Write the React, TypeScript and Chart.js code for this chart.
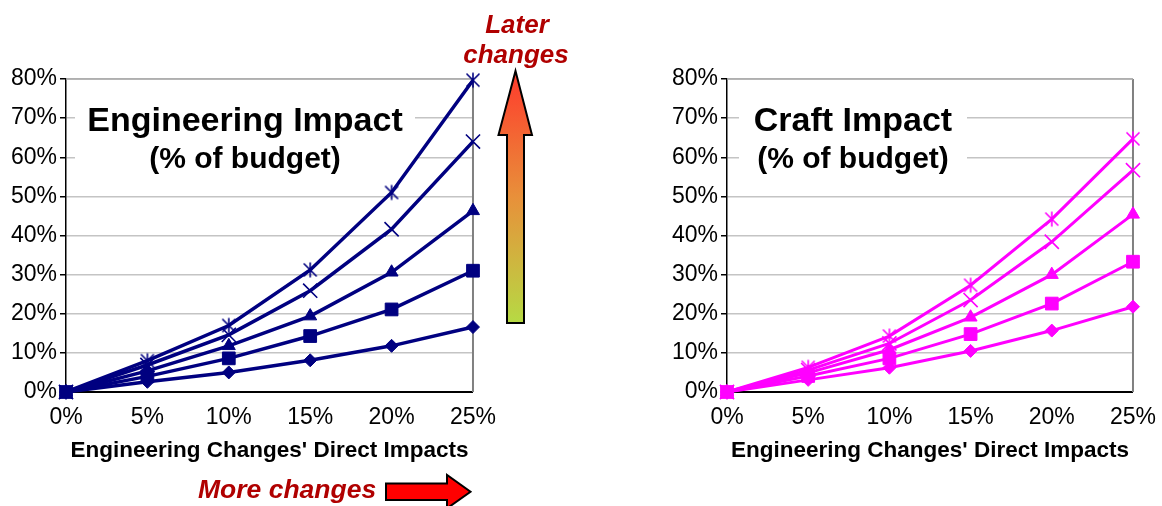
import React, { useEffect, useRef } from 'react';
import { Chart, registerables } from 'chart.js';

Chart.register(...registerables);

// ---------- data ----------
const categories = ['0%', '5%', '10%', '15%', '20%', '25%'];
const seriesNames = ['Series 1', 'Series 2', 'Series 3', 'Series 4', 'Series 5'];

const engDiamond = [0, 2.6, 5.0, 8.1, 11.8, 16.6];
const engSquare = [0, 4.0, 8.6, 14.3, 21.1, 31.0];
const engTriangle = [0, 5.4, 11.8, 19.4, 30.6, 46.3];
const engCross = [0, 6.9, 14.6, 25.9, 41.6, 64.0];
const engStar = [0, 8.0, 17.0, 31.2, 51.0, 79.7];

const craftDiamond = [0, 3.1, 6.2, 10.5, 15.7, 21.8];
const craftSquare = [0, 4.1, 8.6, 14.8, 22.6, 33.3];
const craftTriangle = [0, 4.9, 10.8, 19.1, 30.0, 45.4];
const craftCross = [0, 5.6, 12.4, 23.5, 38.4, 56.7];
const craftStar = [0, 6.3, 14.3, 27.3, 44.2, 64.7];

const yMin = 0;
const yMax = 80;
const yStep = 10;

const xAxisTitle = "Engineering Changes' Direct Impacts";
const engTitle = ['Engineering Impact', '(% of budget)'];
const craftTitle = ['Craft Impact', '(% of budget)'];

// ---------- styles ----------
const FONT = "'Liberation Sans', Arial, sans-serif";
const markerRadii = [6.5, 9, 7.5, 10, 9];

function asteriskMarker(color: string) {
  const size = 18;
  const c = document.createElement('canvas');
  c.width = size;
  c.height = size;
  const g = c.getContext('2d')!;
  const m = size / 2;
  g.strokeStyle = color;
  g.lineWidth = 1.6;
  g.lineCap = 'butt';
  g.beginPath();
  g.moveTo(m - 6.5, m - 6.5);
  g.lineTo(m + 6.5, m + 6.5);
  g.moveTo(m - 6.5, m + 6.5);
  g.lineTo(m + 6.5, m - 6.5);
  g.moveTo(m, m - 7.5);
  g.lineTo(m, m + 7.5);
  g.stroke();
  return c;
}

function makeDatasets(series: number[][], color: string, lineWidth: number) {
  const styles: any[] = ['rectRot', 'rect', 'triangle', 'crossRot', asteriskMarker(color)];
  return series.map((data, i) => ({
    label: seriesNames[i],
    data,
    borderColor: color,
    backgroundColor: color,
    pointBackgroundColor: color,
    pointBorderColor: color,
    pointStyle: styles[i],
    pointRadius: markerRadii[i],
    pointBorderWidth: i >= 3 ? 1.6 : 1,
    borderWidth: lineWidth,
    tension: 0,
    clip: false as any,
  }));
}

type TitleCfg = { lines: string[]; centerX: number; boxL: number; boxR: number };

function makeTitlePlugin(cfg: TitleCfg) {
  return {
    id: 'titleBox',
    beforeDatasetsDraw(chart: any) {
      const { ctx, chartArea } = chart;
      ctx.save();
      ctx.strokeStyle = '#808080';
      ctx.lineWidth = 2;
      ctx.beginPath();
      ctx.moveTo(chartArea.right, chartArea.bottom);
      ctx.lineTo(chartArea.right, chartArea.top);
      ctx.stroke();
      ctx.strokeStyle = '#a8a8a8';
      ctx.lineWidth = 1.5;
      ctx.beginPath();
      ctx.moveTo(chartArea.left, chartArea.top);
      ctx.lineTo(chartArea.right, chartArea.top);
      ctx.stroke();
      ctx.fillStyle = '#ffffff';
      ctx.fillRect(chartArea.left + cfg.boxL, 97, cfg.boxR - cfg.boxL, 82);
      ctx.fillStyle = '#000000';
      ctx.textAlign = 'center';
      ctx.textBaseline = 'alphabetic';
      ctx.font = `bold 34px ${FONT}`;
      ctx.fillText(cfg.lines[0], chartArea.left + cfg.centerX, 131);
      ctx.font = `bold 30px ${FONT}`;
      ctx.fillText(cfg.lines[1], chartArea.left + cfg.centerX, 168);
      ctx.restore();
    },
  };
}

function makeConfig(series: number[][], color: string, lineWidth: number, yWidth: number, padRight: number, title: TitleCfg): any {
  return {
    type: 'line',
    data: { labels: categories, datasets: makeDatasets(series, color, lineWidth) },
    options: {
      animation: false,
      responsive: false,
      events: [],
      layout: { padding: { left: 0, right: padRight, top: 79, bottom: 0 } },
      plugins: { legend: { display: false }, tooltip: { enabled: false } },
      scales: {
        x: {
          type: 'category',
          offset: false,
          grid: { display: false },
          border: { display: true, color: '#000000', width: 2 },
          ticks: { color: '#000000', font: { family: FONT, size: 23 }, padding: 4, maxRotation: 0, autoSkip: false },
          title: {
            display: true,
            text: xAxisTitle,
            color: '#000000',
            font: { family: FONT, size: 22.5, weight: 'bold' },
            padding: { top: 0, bottom: 0 },
          },
          afterFit: (s: any) => {
            s.height = 72;
          },
        },
        y: {
          min: yMin,
          max: yMax,
          ticks: {
            stepSize: yStep,
            color: '#000000',
            font: { family: FONT, size: 23 },
            padding: 3,
            callback: (v: any) => `${v}%`,
          },
          grid: { color: '#c4c4c4', tickColor: '#000000', tickLength: 6, lineWidth: 1.5 },
          border: { display: true, color: '#000000', width: 1.5 },
          afterFit: (s: any) => {
            s.width = yWidth;
          },
        },
      },
    },
    plugins: [makeTitlePlugin(title)],
  };
}

function ChartCanvas({ makeCfg, left, width, height }: any) {
  const ref = useRef<HTMLCanvasElement>(null);
  useEffect(() => {
    if (!ref.current) return;
    const chart = new Chart(ref.current, makeCfg());
    return () => chart.destroy();
  }, []);
  return (
    <canvas
      ref={ref}
      width={width}
      height={height}
      style={{ position: 'absolute', left, top: 0, width, height }}
    />
  );
}

export default function App() {
  const engCfg = () =>
    makeConfig(
      [engDiamond, engSquare, engTriangle, engCross, engStar],
      '#000080',
      3.5,
      66,
      22,
      { lines: engTitle, centerX: 179, boxL: 9, boxR: 349 }
    );
  const craftCfg = () =>
    makeConfig(
      [craftDiamond, craftSquare, craftTriangle, craftCross, craftStar],
      '#ff00ff',
      3,
      67,
      16,
      { lines: craftTitle, centerX: 126, boxL: 12, boxR: 240 }
    );
  return (
    <div style={{ position: 'absolute', left: 0, top: 0, width: 1162, height: 506, background: '#ffffff', overflow: 'hidden' }}>
      <ChartCanvas makeCfg={engCfg} left={0} width={500} height={464} />
      <ChartCanvas makeCfg={craftCfg} left={660} width={500} height={464} />
      <svg
        width={1162}
        height={506}
        style={{ position: 'absolute', left: 0, top: 0, pointerEvents: 'none' }}
      >
        <defs>
          <linearGradient id="upGrad" x1="0" y1="71" x2="0" y2="323" gradientUnits="userSpaceOnUse">
            <stop offset="0" stopColor="#ff3a2c" />
            <stop offset="0.5" stopColor="#e8903a" />
            <stop offset="1" stopColor="#b6da44" />
          </linearGradient>
        </defs>
        <text x={517} y={33} textAnchor="middle" fill="#b00000" fontFamily={FONT} fontWeight="bold" fontStyle="italic" fontSize={26}>
          Later
        </text>
        <text x={516} y={63} textAnchor="middle" fill="#b00000" fontFamily={FONT} fontWeight="bold" fontStyle="italic" fontSize={26}>
          changes
        </text>
        <polygon
          points="507,323 524,323 524,135 532,135 515.5,71 498.5,135 507,135"
          fill="url(#upGrad)"
          stroke="#000000"
          strokeWidth={2}
          strokeLinejoin="miter"
        />
        <text x={198} y={498} fill="#b00000" fontFamily={FONT} fontWeight="bold" fontStyle="italic" fontSize={26.5}>
          More changes
        </text>
        <polygon
          points="386,483.5 447,483.5 447,475 470.5,491.7 447,508.4 447,500 386,500"
          fill="#ff0000"
          stroke="#000000"
          strokeWidth={2}
        />
      </svg>
    </div>
  );
}
